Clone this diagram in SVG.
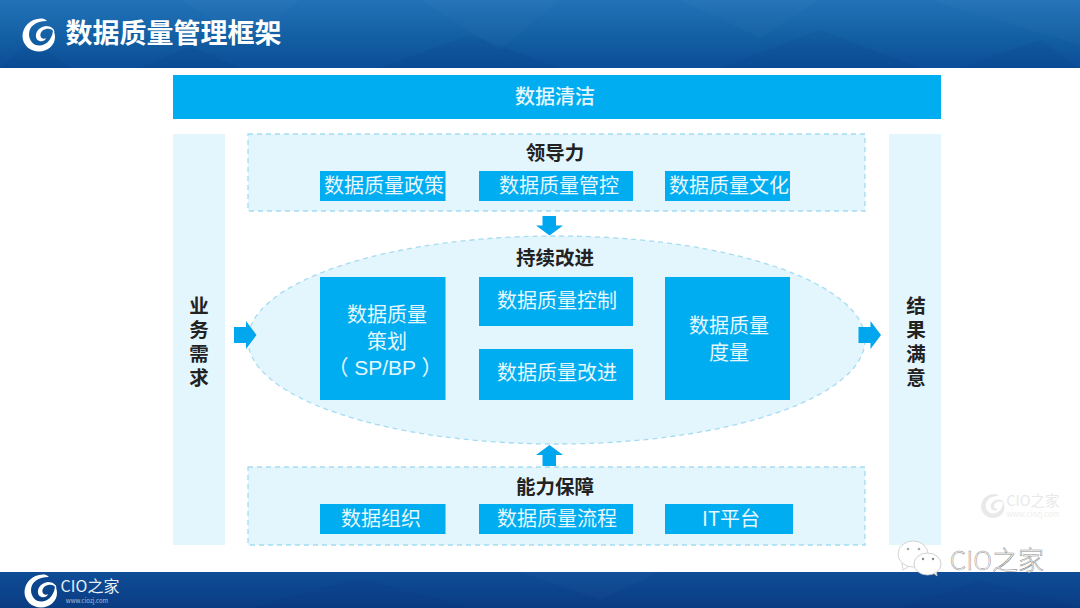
<svg xmlns="http://www.w3.org/2000/svg" width="1080" height="608" viewBox="0 0 1080 608">
<style>
text{font-family:"Noto Sans CJK SC","Liberation Sans",sans-serif;text-anchor:middle}
.panel{fill:#e3f5fd}
.dash{fill:#e3f5fd;stroke:#a5dcf2;stroke-width:1.300;stroke-dasharray:5 4}
.box{fill:#00adf0}
.w{fill:#e6f7fe;font-size:20px}
.h{fill:#222;font-size:19.500px;font-weight:700}
.v{writing-mode:vertical-rl;letter-spacing:4.800px}
.arrow{fill:#00a7ee}
.poly{fill:#fff;opacity:.02}
.polyd{fill:#002a6a;opacity:.06}
</style>
<defs>
<linearGradient id="top" x1="0" y1="0" x2="0" y2="1"><stop offset="0" stop-color="#2272b8"/><stop offset=".55" stop-color="#135fa3"/><stop offset="1" stop-color="#0b4d98"/></linearGradient>
<linearGradient id="bot" x1="0" y1="0" x2="0" y2="1"><stop offset="0" stop-color="#0e4d97"/><stop offset="1" stop-color="#0a3c82"/></linearGradient>
<g id="swirl">
<path d="M2 -16.500C-9 -16.500 -16.500 -8 -16.500 1C-16.500 10 -9 16.500 0 16.500C9 16.500 16 10 16 2C16 -1 15 -4 14 -6C14 2 9 10 1 10.500C-5 11 -10 6 -10 -1C-10 -8 -4 -14 8 -14C6 -16 4 -16.500 2 -16.500Z"/>
<path d="M7 -9C12 -9 15.500 -6 15.500 -3C13 -6 10 -7 7 -6C3 -5 1 -2 1.500 1C2 3.500 5 4.500 7 3C6 6.500 1 7.500 -2 4.500C-5 0 -2 -8 7 -9Z"/>
</g>
</defs>
<rect width="1080" height="608" fill="#fff"/>
<g id="header">
<rect width="1080" height="68" fill="url(#top)"/>
<polygon class="poly" points="180,0 300,0 250,42"/>
<polygon class="polyd" points="0,68 30,40 70,68"/>
<polygon class="polyd" points="140,68 190,46 240,68"/>
<polygon class="poly" points="420,0 560,0 500,50"/>
<polygon class="polyd" points="380,68 470,35 560,68"/>
<polygon class="poly" points="680,0 820,0 760,38"/>
<polygon class="polyd" points="720,68 820,30 920,68"/>
<polygon class="poly" points="930,0 1080,0 1080,45"/>
<polygon class="polyd" points="960,68 1040,40 1080,68"/>
<use href="#swirl" fill="#fff" transform="translate(39,35)"/>
<text x="173.500" y="43" fill="#fff" font-size="27" font-weight="700">数据质量管理框架</text>
</g>
<g id="footer">
<rect y="572" width="1080" height="36" fill="url(#bot)"/>
<polygon class="polyd" points="250,608 360,578 470,608"/>
<polygon class="poly" points="520,572 660,572 600,600"/>
<polygon class="polyd" points="900,608 980,580 1080,608"/>
<use href="#swirl" fill="#fff" transform="translate(41,591)"/>
<text x="90" y="592" fill="#e8eef6" font-size="16">CIO之家</text>
<text x="87" y="603" fill="#a9bfdc" font-size="6">www.ciozj.com</text>
</g>
<g id="top-bar"><rect class="box" x="173" y="75" width="768" height="44"/><text class="w" x="555" y="104" font-weight="500">数据清洁</text></g>
<g id="business-need"><rect class="panel" x="173" y="134" width="52" height="411"/>
<text class="h v" x="199" y="344">业务需求</text></g>
<g id="result"><rect class="panel" x="889" y="134" width="52" height="411"/>
<text class="h v" x="916" y="344">结果满意</text></g>
<g id="leadership"><rect class="dash" x="248" y="134" width="617" height="77"/><text class="h" x="555" y="160">领导力</text></g>
<g id="policy"><rect class="box" x="320" y="171" width="125.500" height="30"/><text class="w" x="384" y="193">数据质量政策</text></g>
<g id="control-mgmt"><rect class="box" x="479" y="171" width="154" height="30"/><text class="w" x="559" y="193">数据质量管控</text></g>
<g id="culture"><rect class="box" x="665" y="171" width="125" height="30"/><text class="w" x="729" y="193">数据质量文化</text></g>
<g id="improvement"><ellipse class="dash" cx="556.500" cy="340" rx="308.500" ry="104"/><text class="h" x="555" y="265">持续改进</text></g>
<g id="planning"><rect class="box" x="320" y="277" width="125.500" height="123"/><text class="w"><tspan x="387" y="322">数据质量</tspan><tspan x="387" y="349">策划</tspan><tspan x="385" y="375" font-family="'Liberation Sans','Noto Sans CJK SC',sans-serif" font-size="21">（ SP/BP ）</tspan></text></g>
<g id="control"><rect class="box" x="479" y="277" width="154" height="49"/><text class="w" x="557" y="308">数据质量控制</text></g>
<g id="improve"><rect class="box" x="479" y="349" width="154" height="51"/><text class="w" x="557" y="380">数据质量改进</text></g>
<g id="measure"><rect class="box" x="665" y="277" width="125" height="123"/><text class="w"><tspan x="729" y="333">数据质量</tspan><tspan x="729" y="360">度量</tspan></text></g>
<g id="capability"><rect class="dash" x="248" y="467" width="617" height="78"/><text class="h" x="555" y="494">能力保障</text></g>
<g id="organization"><rect class="box" x="320" y="504" width="125.500" height="30"/><text class="w" x="381" y="526">数据组织</text></g>
<g id="process"><rect class="box" x="479" y="504" width="154" height="30"/><text class="w" x="557" y="526">数据质量流程</text></g>
<g id="platform"><rect class="box" x="665" y="504" width="128" height="30"/><text class="w" x="731" y="526">IT平台</text></g>
<g id="connectors">
<polygon class="arrow" points="542.500,216 556,216 556,225.500 563,225.500 549.500,235.500 536,225.500 542.500,225.500"/>
<polygon class="arrow" points="542.500,466 556,466 556,455 563,455 549.500,445 536,455 542.500,455"/>
<polygon class="arrow" points="234,327 246,327 246,321 256.500,335 246,349 246,343 234,343"/>
<polygon class="arrow" points="858.500,327 870.500,327 870.500,321 881,335 870.500,349 870.500,343 858.500,343"/>
</g>
<g id="watermark">
<use href="#swirl" fill="#e9e9e9" transform="translate(993,506) scale(.72)"/>
<text x="1033" y="506" fill="#e9e9e9" font-size="14.500">CIO之家</text>
<text x="1033" y="517" fill="#eeeeee" font-size="7.500">www.ciozj.com</text>
</g>
<g id="wechat-mark">
<polygon points="902,563 903,570 911,565" fill="#fff" stroke="#c9c9c9" stroke-width=".8"/>
<ellipse cx="913" cy="554" rx="15" ry="13" fill="#fff" stroke="#c9c9c9" stroke-width=".8"/>
<polygon points="932,572 937,576 936,568" fill="#fff" stroke="#c4c4c4" stroke-width=".8"/>
<ellipse cx="927.500" cy="564" rx="13.500" ry="11" fill="#fff" stroke="#c4c4c4" stroke-width=".8"/>
<circle cx="908" cy="549" r="1.300" fill="#aaa"/><circle cx="919" cy="549" r="1.300" fill="#aaa"/>
<circle cx="923" cy="559" r="1.200" fill="#888"/><circle cx="933" cy="559" r="1.200" fill="#888"/>
<text x="997" y="570" fill="#fff" stroke="#8b8b8b" stroke-width=".5" font-size="26" font-weight="300">CIO之家</text>
</g>
</svg>
